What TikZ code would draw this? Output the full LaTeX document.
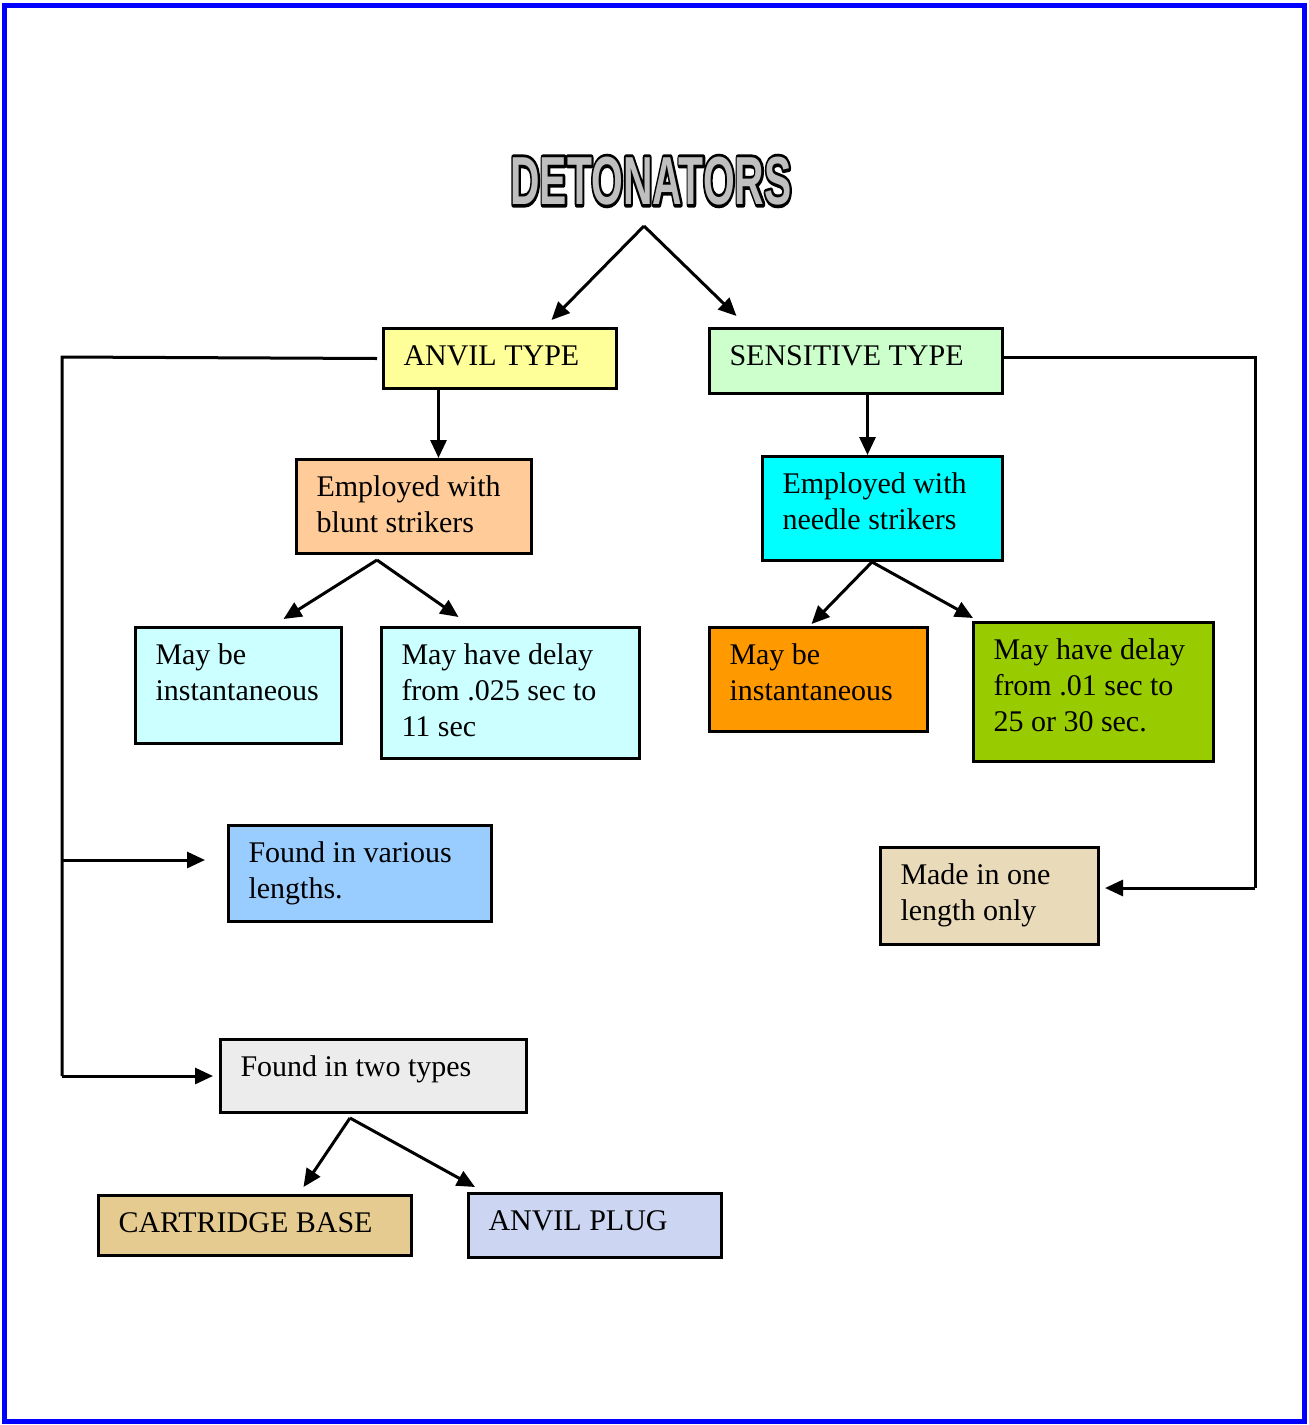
\documentclass[tikz,border=0pt]{standalone}
\usepackage{fontspec}
\setmainfont{Liberation Serif}
\newfontfamily\titlefont{Liberation Sans}
\usetikzlibrary{arrows.meta, positioning}
\definecolor{color1}{RGB}{255,255,153}
\definecolor{color2}{RGB}{204,255,204}
\definecolor{color3}{RGB}{255,204,153}
\definecolor{color4}{RGB}{0,255,255}
\definecolor{color5}{RGB}{204,255,255}
\definecolor{color6}{RGB}{255,153,0}
\definecolor{color7}{RGB}{153,204,0}
\definecolor{color8}{RGB}{153,204,255}
\definecolor{color9}{RGB}{233,218,186}
\definecolor{color10}{RGB}{236,236,236}
\definecolor{color11}{RGB}{230,203,145}
\definecolor{color12}{RGB}{204,214,242}
\definecolor{color13}{RGB}{0,0,255}
\newcommand{\outlinetext}[1]{\rlap{\special{pdf:literal direct q 1 Tr 3.2 w 1 j 0 0 0 RG}#1\special{pdf:literal direct Q}}\special{pdf:literal direct q 0 Tr 0.75 g}#1\special{pdf:literal direct Q}}

\begin{document}
\begin{tikzpicture}[x = 0.5pt, y = -0.5pt,
    box/.style n args={3}{draw, line width=1.5pt, anchor=north west, align=flush left, inner xsep=10pt, inner ysep=8pt, font=\fontsize{15}{18}\selectfont, text height=10.5pt, text width=#1, text depth=#2, fill=#3},
    line/.style={line width=1.5pt},
    arr/.style={line width=1.5pt, -{Triangle[length=9pt, width=8pt]}}]
                \useasboundingbox (0,0) rectangle (1308,1425);
                \draw[color13, line width=2.5pt] (4.5,5) rectangle (1304.5,1421.5);

                % title
                \node (title) at (651,181) {\titlefont\bfseries\fontsize{34}{34}\selectfont\scalebox{0.6}[1]{\outlinetext{DETONATORS}}};
                \coordinate (apex) at (644,226);

                % boxes
                \node[box={96.5pt}{3.5pt}{color1}] (anvil) at (382,327) {ANVIL TYPE};
                \node[box={126.5pt}{6pt}{color2}] (sens) at (708,327) {SENSITIVE TYPE};
                \node[box={97.5pt}{20.5pt}{color3}] (blunt) at (295,458) {Employed with\\blunt strikers};
                \node[box={100pt}{25.5pt}{color4}] (needle) at (761,455) {Employed with\\needle strikers};
                \node[box={83pt}{31.5pt}{color5}] (inst1) at (134,626) {May be\\instantaneous};
                \node[box={109pt}{39pt}{color5}] (delay1) at (380,626) {May have delay\\from .025 sec to\\11 sec};
                \node[box={89pt}{25.5pt}{color6}] (inst2) at (708,626) {May be\\instantaneous};
                \node[box={100pt}{43pt}{color7}] (delay2) at (972,621) {May have delay\\from .01 sec to\\25 or 30 sec.};
                \node[box={111.5pt}{21.5pt}{color8}] (various) at (227,824) {Found in various\\lengths.};
                \node[box={89pt}{22pt}{color9}] (onelen) at (879,846) {Made in one\\length only};
                \node[box={133pt}{10pt}{color10}] (twotypes) at (219,1038) {Found in two types};
                \node[box={136.5pt}{3.5pt}{color11}] (cartridge) at (97,1194) {CARTRIDGE BASE};
                \node[box={106.5pt}{5.5pt}{color12}] (plug) at (467,1192) {ANVIL PLUG};

                % split points
                \coordinate (bsplit) at (377,560);
                \coordinate (nsplit) at (872,562);
                \coordinate (tsplit) at (350,1118);
                \coordinate (ltop) at (62,357);
                \coordinate (lmid) at (62,860);
                \coordinate (lbot) at (62,1076);
                \coordinate (rtop) at (1255,357);
                \coordinate (rbot) at (1255,888);

                % connectors
                \draw[arr] (apex) -- ([xshift=25.75pt, yshift=3.5pt]anvil.north);
                \draw[arr] (apex) -- ([xshift=-59.75pt, yshift=5.5pt]sens.north);

                \draw[arr] ([xshift=-30.75pt]anvil.south) -- ([xshift=-30.75pt]anvil.south |- blunt.north);
                \draw[arr] ([xshift=5.75pt]sens.south) -- ([xshift=5.75pt]sens.south |- needle.north);

                \draw[arr] (bsplit) -- ([xshift=22.5pt, yshift=3.5pt]inst1.north);
                \draw[arr] (bsplit) -- ([xshift=-26pt, yshift=4.5pt]delay1.north);
                \draw[arr] (nsplit) -- ([xshift=-3.5pt, yshift=1pt]inst2.north);
                \draw[arr] (nsplit) -- ([xshift=0.5pt, yshift=1.5pt]delay2.north west);

                \draw[line] ([xshift=-2.5pt]anvil.west) -- (ltop) -- (lbot);
                \draw[arr] (lmid) -- ([xshift=-11pt]various.west |- lmid);
                \draw[arr] (lbot) -- ([xshift=-3pt]twotypes.west);

                \draw[line] (sens.east |- rtop) -- (rtop) -- (rbot);
                \draw[arr] (rbot) -- ([xshift=2.5pt]onelen.east |- rbot);

                \draw[arr] (tsplit) -- ([xshift=24.25pt, yshift=3.5pt]cartridge.north);
                \draw[arr] (tsplit) -- ([xshift=4pt, yshift=2.5pt]plug.north west);

            \end{tikzpicture}
\end{document}
